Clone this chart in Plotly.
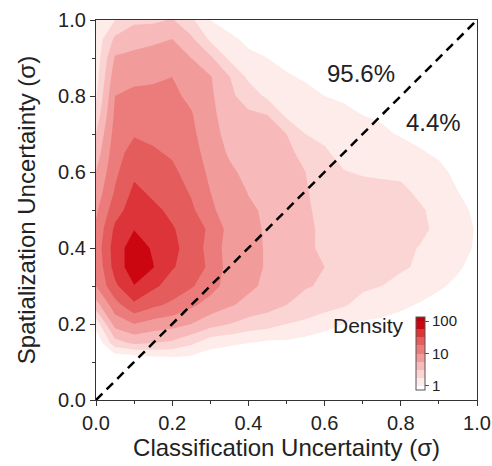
import plotly.graph_objects as go

# Grid of the two uncertainty axes (sigma units)
classification_sigma = [round(0.05 * i, 2) for i in range(21)]
spatialization_sigma = [round(0.05 * j, 2) for j in range(21)]

# log10(density) on the grid; one row per spatialization value (bottom to top),
# one column per classification value (left to right)
log_density = [
    [-0.8, -0.6, -0.5, -0.5, -0.5, -0.5, -0.5, -0.5, -0.5, -0.5, -0.5, -0.5, -0.5, -0.5, -0.5, -0.5, -0.5, -0.5, -0.5, -0.5, -0.5],
    [-0.7, -0.5, -0.4, -0.4, -0.35, -0.35, -0.4, -0.4, -0.45, -0.45, -0.45, -0.45, -0.45, -0.45, -0.45, -0.45, -0.45, -0.45, -0.5, -0.5, -0.5],
    [-0.5, -0.3, -0.3, -0.2, -0.15, -0.15, -0.2, -0.25, -0.3, -0.3, -0.3, -0.3, -0.35, -0.35, -0.35, -0.35, -0.35, -0.4, -0.45, -0.45, -0.5],
    [-0.2, 0.4, 0.55, 0.5, 0.45, 0.3, 0.1, 0.05, 0.0, -0.05, -0.05, -0.1, -0.15, -0.2, -0.2, -0.2, -0.25, -0.3, -0.35, -0.4, -0.45],
    [0.1, 0.85, 1.0, 0.9, 0.85, 0.75, 0.6, 0.5, 0.4, 0.35, 0.25, 0.2, 0.1, 0.0, -0.03, -0.05, -0.1, -0.15, -0.2, -0.3, -0.35],
    [0.65, 1.15, 1.45, 1.3, 1.2, 1.05, 0.9, 0.78, 0.68, 0.6, 0.5, 0.4, 0.35, 0.28, 0.15, 0.1, 0.05, -0.02, -0.08, -0.15, -0.25],
    [1.0, 1.45, 1.74, 1.55, 1.4, 1.28, 1.1, 0.9, 0.8, 0.7, 0.6, 0.52, 0.47, 0.38, 0.3, 0.25, 0.18, 0.12, 0.03, -0.05, -0.15],
    [1.05, 1.6, 1.9, 1.76, 1.52, 1.4, 1.2, 0.9, 0.85, 0.72, 0.65, 0.55, 0.5, 0.42, 0.36, 0.33, 0.28, 0.22, 0.12, 0.03, -0.08],
    [1.1, 1.62, 1.88, 1.72, 1.55, 1.42, 1.15, 0.9, 0.85, 0.72, 0.65, 0.52, 0.48, 0.42, 0.38, 0.36, 0.3, 0.24, 0.18, 0.08, -0.03],
    [1.05, 1.55, 1.74, 1.62, 1.52, 1.4, 1.2, 0.92, 0.82, 0.72, 0.65, 0.55, 0.45, 0.4, 0.38, 0.36, 0.34, 0.3, 0.2, 0.1, -0.02],
    [0.95, 1.4, 1.62, 1.55, 1.45, 1.3, 1.05, 0.88, 0.78, 0.72, 0.63, 0.54, 0.42, 0.38, 0.36, 0.34, 0.32, 0.28, 0.18, 0.07, -0.05],
    [0.85, 1.27, 1.55, 1.45, 1.38, 1.22, 1.0, 0.85, 0.74, 0.68, 0.6, 0.52, 0.4, 0.35, 0.32, 0.3, 0.3, 0.2, 0.12, 0.0, -0.1],
    [0.75, 1.2, 1.45, 1.38, 1.3, 1.15, 0.95, 0.8, 0.68, 0.62, 0.57, 0.5, 0.38, 0.26, 0.23, 0.22, 0.2, 0.12, 0.05, -0.05, -0.15],
    [0.62, 1.15, 1.35, 1.28, 1.22, 1.1, 0.9, 0.72, 0.62, 0.58, 0.54, 0.45, 0.28, 0.18, 0.15, 0.12, 0.1, 0.02, -0.03, -0.12, -0.22],
    [0.5, 1.1, 1.23, 1.2, 1.15, 1.05, 0.87, 0.65, 0.58, 0.55, 0.5, 0.25, 0.2, 0.12, 0.08, 0.04, -0.02, -0.05, -0.1, -0.2, -0.3],
    [0.35, 1.05, 1.15, 1.12, 1.1, 1.02, 0.83, 0.6, 0.54, 0.5, 0.2, 0.15, 0.1, 0.05, 0.0, -0.03, -0.1, -0.15, -0.2, -0.28, -0.38],
    [0.22, 1.0, 1.05, 1.05, 1.05, 0.95, 0.8, 0.55, 0.4, 0.2, 0.1, 0.05, 0.0, -0.03, -0.08, -0.1, -0.18, -0.22, -0.28, -0.35, -0.45],
    [0.15, 0.9, 0.95, 0.97, 1.0, 0.85, 0.77, 0.51, 0.2, 0.1, 0.02, -0.02, -0.05, -0.1, -0.15, -0.2, -0.25, -0.3, -0.35, -0.42, -0.5],
    [0.1, 0.78, 0.82, 0.85, 0.88, 0.75, 0.55, 0.2, 0.05, 0.0, -0.05, -0.1, -0.15, -0.2, -0.25, -0.3, -0.35, -0.4, -0.45, -0.5, -0.58],
    [0.08, 0.55, 0.65, 0.7, 0.75, 0.55, 0.2, 0.05, -0.05, -0.1, -0.2, -0.25, -0.3, -0.35, -0.4, -0.4, -0.45, -0.5, -0.55, -0.6, -0.65],
    [0.05, 0.25, 0.45, 0.45, 0.52, 0.3, 0.0, -0.1, -0.2, -0.3, -0.35, -0.4, -0.45, -0.5, -0.5, -0.5, -0.55, -0.6, -0.65, -0.7, -0.75],
]

# Colour-bar ticks (density, log scale)
density_tickvals = [0, 1, 2]
density_ticktext = ["1", "10", "100"]

# Share of points on each side of the diagonal
share_above = "95.6%"
share_below = "4.4%"

# One colour per filled band: below 1, eight log bands, above 100
band_colors = [
    "rgb(255,255,255)",
    "rgb(253,236,234)",
    "rgb(251,212,212)",
    "rgb(247,185,185)",
    "rgb(242,155,155)",
    "rgb(236,124,124)",
    "rgb(229,92,92)",
    "rgb(220,52,56)",
    "rgb(204,6,16)",
    "rgb(190,0,10)",
]
colorscale = [[k / (len(band_colors) - 1), c] for k, c in enumerate(band_colors)]

FONT = "Arial, Liberation Sans, sans-serif"
TXT = "#222222"

fig = go.Figure()

fig.add_trace(go.Contour(
    x=classification_sigma,
    y=spatialization_sigma,
    z=log_density,
    autocontour=False,
    contours=dict(start=0, end=2, size=0.25, coloring="fill", showlines=False),
    line=dict(width=0, smoothing=0),
    colorscale=colorscale,
    showscale=True,
    colorbar=dict(
        x=0.84, xanchor="left", y=0.1224, yanchor="middle",
        len=73, lenmode="pixels", thickness=9, thicknessmode="pixels",
        xpad=0, ypad=0,
        outlinewidth=1, outlinecolor="#555555",
        tickvals=density_tickvals, ticktext=density_ticktext,
        ticks="outside", ticklen=4, tickcolor="#555555",
        tickfont=dict(family=FONT, size=15, color=TXT),
    ),
    hoverinfo="skip",
))

# Diagonal: equal classification and spatialization uncertainty
fig.add_trace(go.Scatter(
    x=[0, 1], y=[0, 1], mode="lines",
    line=dict(color="black", width=2.5, dash="9px,6px"),
    showlegend=False, hoverinfo="skip", cliponaxis=False,
))

axis_common = dict(
    range=[0, 1], dtick=0.2, tickformat=".1f",
    ticks="outside", ticklen=5, tickwidth=1.3, tickcolor="#333333",
    minor=dict(dtick=0.1, ticks="outside", ticklen=3, tickwidth=1.3, tickcolor="#333333"),
    showline=True, linecolor="#333333", linewidth=1.3, mirror=True,
    showgrid=False, zeroline=False,
    tickfont=dict(family=FONT, size=20, color=TXT),
    automargin=False,
)

fig.update_xaxes(
    **axis_common,
    title=dict(text="Classification Uncertainty (σ)", standoff=4,
               font=dict(family=FONT, size=24, color=TXT)),
)
fig.update_yaxes(
    **axis_common,
    title=dict(text="Spatialization Uncertainty (σ)", standoff=15,
               font=dict(family=FONT, size=24, color=TXT)),
)

fig.add_annotation(x=0.696, y=0.86, xref="x", yref="y", text=share_above,
                   showarrow=False, font=dict(family=FONT, size=24, color=TXT))
fig.add_annotation(x=0.885, y=0.73, xref="x", yref="y", text=share_below,
                   showarrow=False, font=dict(family=FONT, size=24, color=TXT))
fig.add_annotation(x=0.814, y=0.195, xref="x", yref="y", text="Density",
                   xanchor="right", showarrow=False,
                   font=dict(family=FONT, size=21, color=TXT))

fig.update_layout(
    width=492, height=466,
    margin=dict(l=96, r=15, t=20, b=66, autoexpand=False),
    paper_bgcolor="white", plot_bgcolor="white",
    showlegend=False,
    font=dict(family=FONT, color=TXT),
)

fig.write_html("out.html")
